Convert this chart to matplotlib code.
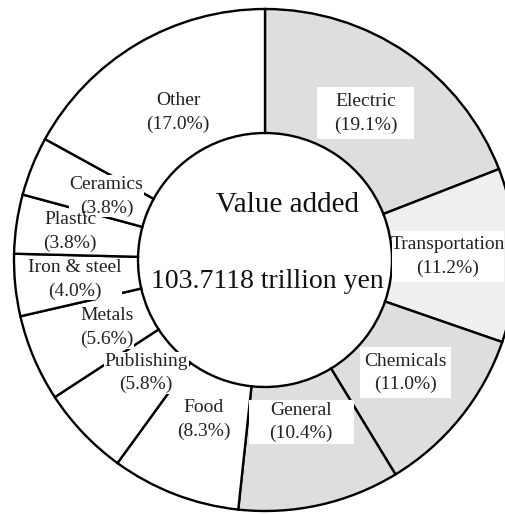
import numpy as np
import matplotlib
matplotlib.use("Agg")
import matplotlib.pyplot as plt
from matplotlib.patches import Rectangle

plt.rcParams['font.family'] = ['Liberation Serif', 'DejaVu Serif']

# industry shares of manufacturing value added, clockwise from 12 o'clock
sectors = ['Electric', 'Transportation', 'Chemicals', 'General', 'Food',
           'Publishing', 'Metals', 'Iron & steel', 'Plastic', 'Ceramics', 'Other']
shares = [19.1, 11.2, 11.0, 10.4, 8.3, 5.8, 5.6, 4.0, 3.8, 3.8, 17.0]
colors = ['#dedede', '#efefef', '#dedede', '#dedede', 'white', 'white',
          'white', 'white', 'white', 'white', 'white']
total_value = '103.7118 trillion yen'

# label distance from the centre (pixels) for each wedge
label_r = [178, 183, 180, 166, 171, 164, 172, 191, 197, 171, 171]
# white boxes behind the labels on shaded wedges: (width, height)
boxes = {'Electric': (97, 52), 'Transportation': (112, 51),
         'Chemicals': (91, 51), 'General': (105, 44)}

W, H = 505, 514
cx, cy = 265, H - 260
R, ring = 251, 124

fig = plt.figure(figsize=(W / 100, H / 100), dpi=100)
ax = fig.add_axes([0, 0, 1, 1])

wedges, _ = ax.pie(shares, startangle=90, counterclock=False, colors=colors,
                   radius=R, center=(cx, cy),
                   wedgeprops=dict(width=ring, edgecolor='black', linewidth=1.7))

for w, name, val, r in zip(wedges, sectors, shares, label_r):
    ang = np.deg2rad((w.theta1 + w.theta2) / 2)
    x = cx + r * np.cos(ang)
    y = cy + r * np.sin(ang)
    label = f'{name}\n({val:.1f}%)'
    style = dict(ha='center', va='center', fontsize=14, linespacing=1.5)
    if name in boxes:
        bw, bh = boxes[name]
        ax.add_patch(Rectangle((x - bw / 2, y - bh / 2), bw, bh,
                               facecolor='white', edgecolor='none', zorder=3))
    else:
        # blank copy of the label just to mask the wedge lines behind it
        ax.text(x, y, label, color='none', zorder=3,
                bbox=dict(facecolor='white', edgecolor='none', pad=0.5), **style)
    ax.text(x, y, label, color='#222222', zorder=4, **style)

ax.text(cx + 23, H - 205, 'Value added', ha='center', va='center',
        fontsize=21, color='#111111', zorder=5)
ax.text(cx + 2, H - 282, total_value, ha='center', va='center',
        fontsize=20, color='#111111', zorder=5)

ax.set_xlim(0, W)
ax.set_ylim(0, H)
ax.set_aspect('equal')
ax.axis('off')

fig.savefig('out.png', dpi=100, facecolor='white')
